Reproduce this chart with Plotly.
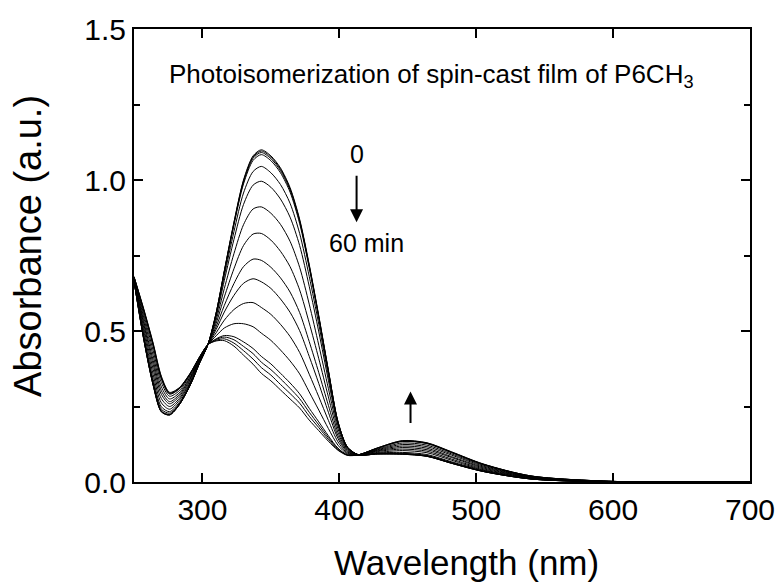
import plotly.graph_objects as go

# Wavelength grid (nm)
wavelength = [250, 257, 264, 270, 276, 283, 291, 298, 304, 310, 316, 323, 330, 337, 343,
              350, 357, 364, 371, 378, 385, 392, 399, 406, 414, 428, 446, 464, 482, 505,
              540, 600, 700]

# Absorbance spectra, from 0 min (top at 343 nm) to 60 min (bottom at 343 nm)
s01 = [0.665, 0.475, 0.320, 0.232, 0.222, 0.255, 0.320, 0.395, 0.455, 0.560, 0.700, 0.860, 1.000, 1.080, 1.100,
       1.080, 1.040, 0.975, 0.870, 0.720, 0.550, 0.370, 0.200, 0.115, 0.090, 0.093, 0.092, 0.085, 0.062, 0.035,
       0.010, 0.000, 0.000]
s02 = [0.665, 0.476, 0.321, 0.233, 0.222, 0.255, 0.320, 0.395, 0.455, 0.559, 0.699, 0.858, 0.997, 1.076, 1.096,
       1.076, 1.036, 0.971, 0.866, 0.717, 0.548, 0.369, 0.199, 0.115, 0.090, 0.093, 0.092, 0.085, 0.062, 0.035,
       0.010, 0.000, 0.000]
s03 = [0.665, 0.476, 0.322, 0.233, 0.223, 0.256, 0.320, 0.395, 0.455, 0.559, 0.697, 0.855, 0.993, 1.072, 1.091,
       1.071, 1.031, 0.967, 0.863, 0.714, 0.545, 0.367, 0.199, 0.115, 0.090, 0.093, 0.093, 0.086, 0.062, 0.035,
       0.010, 0.000, 0.000]
s04 = [0.665, 0.477, 0.323, 0.235, 0.224, 0.256, 0.321, 0.395, 0.455, 0.558, 0.695, 0.851, 0.987, 1.065, 1.084,
       1.064, 1.024, 0.960, 0.856, 0.709, 0.542, 0.365, 0.198, 0.114, 0.090, 0.093, 0.093, 0.086, 0.063, 0.036,
       0.010, 0.000, 0.000]
s05 = [0.666, 0.483, 0.331, 0.241, 0.228, 0.259, 0.323, 0.397, 0.455, 0.553, 0.683, 0.829, 0.957, 1.028, 1.045,
       1.024, 0.985, 0.923, 0.823, 0.681, 0.522, 0.352, 0.193, 0.113, 0.090, 0.095, 0.095, 0.088, 0.065, 0.037,
       0.011, 0.000, 0.000]
s06 = [0.667, 0.489, 0.340, 0.249, 0.233, 0.263, 0.326, 0.398, 0.455, 0.547, 0.668, 0.803, 0.919, 0.983, 0.996,
       0.976, 0.937, 0.877, 0.783, 0.648, 0.497, 0.337, 0.187, 0.111, 0.090, 0.096, 0.098, 0.091, 0.067, 0.039,
       0.011, 0.000, 0.000]
s07 = [0.669, 0.501, 0.356, 0.262, 0.241, 0.270, 0.330, 0.400, 0.455, 0.536, 0.641, 0.756, 0.852, 0.904, 0.911,
       0.890, 0.853, 0.797, 0.711, 0.589, 0.453, 0.310, 0.176, 0.108, 0.090, 0.098, 0.104, 0.097, 0.072, 0.041,
       0.013, 0.001, 0.000]
s08 = [0.671, 0.513, 0.373, 0.276, 0.250, 0.276, 0.335, 0.403, 0.455, 0.525, 0.613, 0.706, 0.783, 0.821, 0.823,
       0.801, 0.764, 0.713, 0.636, 0.527, 0.408, 0.282, 0.164, 0.105, 0.090, 0.101, 0.109, 0.102, 0.076, 0.044,
       0.014, 0.001, 0.000]
s09 = [0.672, 0.525, 0.389, 0.290, 0.259, 0.283, 0.340, 0.405, 0.455, 0.514, 0.585, 0.657, 0.713, 0.738, 0.734,
       0.711, 0.676, 0.629, 0.561, 0.465, 0.362, 0.254, 0.153, 0.102, 0.090, 0.103, 0.114, 0.107, 0.081, 0.047,
       0.015, 0.001, 0.000]
s10 = [0.674, 0.534, 0.403, 0.302, 0.266, 0.289, 0.344, 0.407, 0.455, 0.505, 0.563, 0.618, 0.658, 0.673, 0.663,
       0.641, 0.606, 0.562, 0.501, 0.416, 0.326, 0.231, 0.144, 0.099, 0.090, 0.105, 0.119, 0.112, 0.084, 0.050,
       0.016, 0.001, 0.000]
s11 = [0.676, 0.546, 0.419, 0.315, 0.275, 0.295, 0.348, 0.409, 0.455, 0.494, 0.536, 0.571, 0.591, 0.594, 0.578,
       0.555, 0.522, 0.482, 0.429, 0.357, 0.282, 0.204, 0.133, 0.096, 0.090, 0.107, 0.124, 0.117, 0.089, 0.053,
       0.017, 0.001, 0.000]
s12 = [0.677, 0.557, 0.435, 0.329, 0.284, 0.302, 0.353, 0.411, 0.455, 0.484, 0.510, 0.524, 0.524, 0.514, 0.493,
       0.469, 0.437, 0.401, 0.358, 0.298, 0.238, 0.177, 0.122, 0.093, 0.090, 0.109, 0.129, 0.122, 0.093, 0.056,
       0.018, 0.002, 0.000]
s13 = [0.679, 0.568, 0.450, 0.341, 0.291, 0.308, 0.357, 0.414, 0.455, 0.474, 0.485, 0.481, 0.464, 0.442, 0.416,
       0.391, 0.360, 0.328, 0.292, 0.244, 0.199, 0.153, 0.112, 0.090, 0.090, 0.112, 0.134, 0.127, 0.097, 0.058,
       0.019, 0.002, 0.000]
s14 = [0.679, 0.570, 0.453, 0.344, 0.293, 0.309, 0.358, 0.414, 0.455, 0.472, 0.480, 0.471, 0.449, 0.425, 0.397,
       0.372, 0.342, 0.310, 0.276, 0.231, 0.189, 0.147, 0.110, 0.089, 0.090, 0.112, 0.135, 0.128, 0.098, 0.059,
       0.020, 0.002, 0.000]
s15 = [0.680, 0.573, 0.457, 0.347, 0.295, 0.311, 0.359, 0.415, 0.455, 0.469, 0.474, 0.460, 0.435, 0.407, 0.379,
       0.354, 0.323, 0.293, 0.261, 0.218, 0.180, 0.141, 0.107, 0.089, 0.090, 0.113, 0.136, 0.129, 0.099, 0.059,
       0.020, 0.002, 0.000]
s16 = [0.680, 0.575, 0.460, 0.350, 0.297, 0.312, 0.360, 0.415, 0.455, 0.467, 0.468, 0.450, 0.420, 0.390, 0.360,
       0.335, 0.305, 0.275, 0.245, 0.205, 0.170, 0.135, 0.105, 0.088, 0.090, 0.113, 0.137, 0.130, 0.100, 0.060,
       0.020, 0.002, 0.000]

spectra = [s01, s02, s03, s04, s05, s06, s07, s08, s09, s10, s11, s12, s13, s14, s15, s16]

x_ticks = [300, 400, 500, 600, 700]
y_ticks = [0.0, 0.5, 1.0, 1.5]

FONT = "Liberation Sans, Arial, sans-serif"

fig = go.Figure()
for s in spectra:
    fig.add_trace(go.Scatter(x=wavelength, y=s, mode="lines",
                             line=dict(color="black", width=1, shape="spline", smoothing=0.8),
                             showlegend=False, hoverinfo="skip"))

axis_common = dict(showline=True, linecolor="black", linewidth=2, mirror="allticks",
                   ticks="inside", tickcolor="black", tickwidth=2, ticklen=9,
                   showgrid=False, zeroline=False,
                   tickfont=dict(family=FONT, size=30, color="black"))

fig.update_xaxes(range=[250, 700], tickvals=x_ticks, ticktext=[str(v) for v in x_ticks],
                 **axis_common)
fig.update_yaxes(range=[0, 1.5], tickvals=y_ticks, ticktext=["%.1f" % v for v in y_ticks],
                 minor=dict(tickvals=[0.25, 0.75, 1.25], ticks="inside", ticklen=6,
                            tickwidth=2, tickcolor="black"),
                 **axis_common)

# Axis titles (placed as annotations to match the reference offsets)
fig.add_annotation(x=0.539, y=-0.178, xref="paper", yref="paper", showarrow=False,
                   text="Wavelength (nm)", font=dict(family=FONT, size=35, color="black"),
                   xanchor="center", yanchor="middle")
fig.add_annotation(x=-0.173, y=0.522, xref="paper", yref="paper", showarrow=False,
                   text="Absorbance (a.u.)", textangle=-90,
                   font=dict(family=FONT, size=38, color="black"),
                   xanchor="center", yanchor="middle")

fig.add_annotation(x=467, y=1.345, xref="x", yref="y", showarrow=False,
                   text="Photoisomerization of spin-cast film of P6CH<sub>3</sub>",
                   font=dict(family=FONT, size=26, color="black"))
fig.add_annotation(x=420, y=0.79, xref="x", yref="y", showarrow=False, text="60 min",
                   font=dict(family=FONT, size=25, color="black"))
# "0" label with its downward arrow
fig.add_annotation(x=412.6, y=0.86, ax=412.6, ay=1.085, xref="x", yref="y", axref="x", ayref="y",
                   text="0", font=dict(family=FONT, size=25, color="black"),
                   showarrow=True, arrowhead=2, arrowsize=1.3, arrowwidth=2, arrowcolor="black",
                   startstandoff=6)
fig.add_annotation(x=452, y=0.30, ax=452, ay=0.19, xref="x", yref="y", axref="x", ayref="y",
                   showarrow=True, arrowhead=2, arrowsize=1.3, arrowwidth=2, arrowcolor="black", text="")

fig.update_layout(width=781, height=587, paper_bgcolor="white", plot_bgcolor="white",
                  margin=dict(l=134, r=31, t=29, b=105, autoexpand=False),
                  font=dict(family=FONT, color="black"))

fig.write_html("out.html")
